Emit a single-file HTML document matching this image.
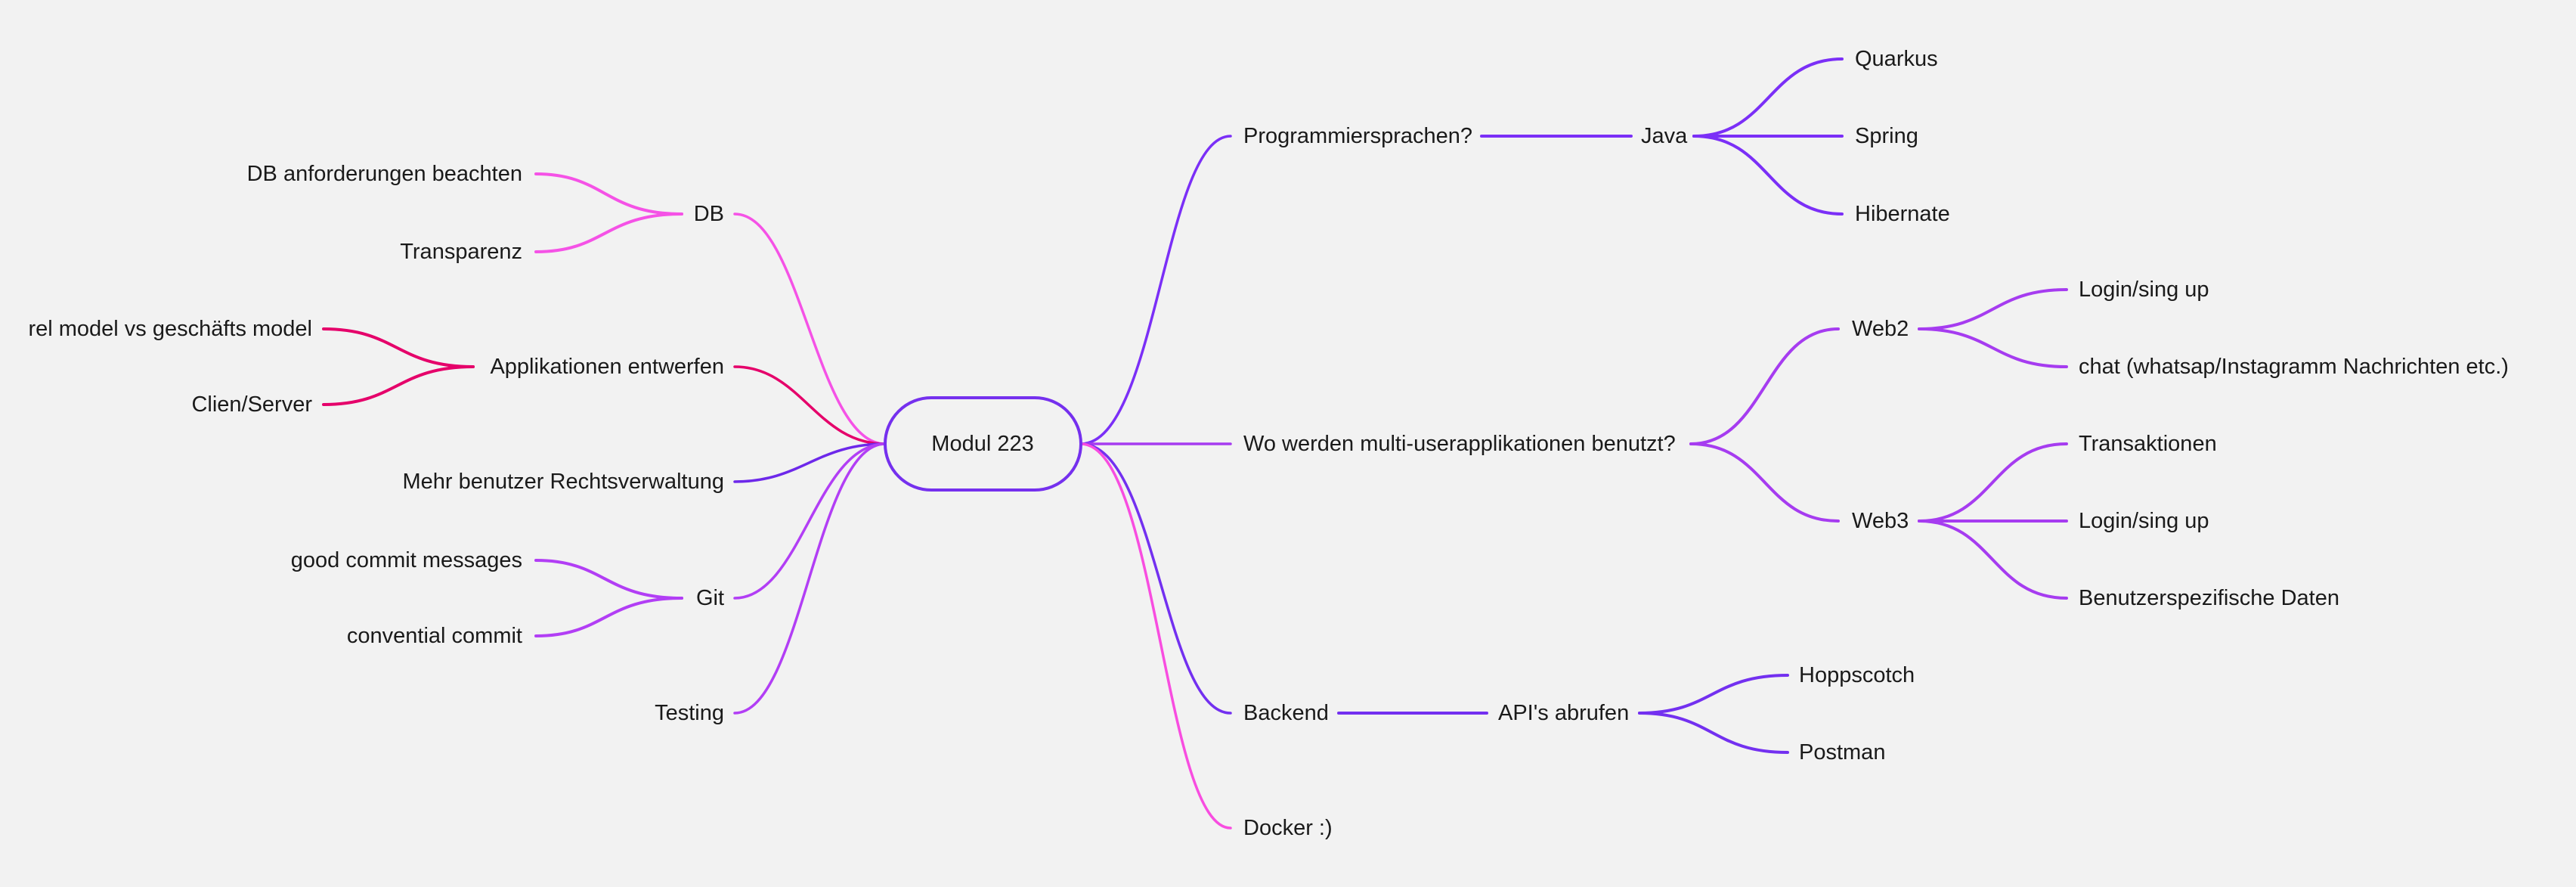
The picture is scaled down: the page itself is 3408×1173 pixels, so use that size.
<!DOCTYPE html>
<html><head><meta charset="utf-8"><style>
html,body{margin:0;padding:0;background:#f2f2f2;}
svg{display:block;}
text{font-family:"Liberation Sans",sans-serif;font-size:29px;fill:#1a1a1a;dominant-baseline:central;}
path{fill:none;stroke-linecap:round;}
</style></head><body>
<svg width="3408" height="1173" viewBox="0 0 3408 1173" xmlns="http://www.w3.org/2000/svg">
<rect width="3408" height="1173" fill="#f2f2f2"/>
<g stroke-width="3.5">
<path d="M1171 587 C1080 587 1060 283 972 283" stroke="#f552e6"/>
<path d="M1171 587 C1080 587 1060 485 972 485" stroke="#e5006a"/>
<path d="M1171 587 C1080 587 1060 637 972 637" stroke="#6d28ea"/>
<path d="M1171 587 C1080 587 1060 791 972 791" stroke="#b23ef5"/>
<path d="M1171 587 C1080 587 1060 943 972 943" stroke="#b23ef5"/>
<path d="M1430 587 C1530 587 1540 180 1628 180" stroke="#7b2ff7"/>
<path d="M1439 587 L1628 587" stroke="#a63cf0"/>
<path d="M1430 587 C1530 587 1540 943 1628 943" stroke="#7330f0"/>
<path d="M1430 587 C1530 587 1540 1095 1628 1095" stroke="#f84de0"/>
</g>
<g stroke-width="4">
<path d="M902 283 C800 283 800 230 709 230" stroke="#f552e6"/>
<path d="M902 283 C800 283 800 333 709 333" stroke="#f552e6"/>
<path d="M626 485 C525 485 525 435 428 435" stroke="#e5006a"/>
<path d="M626 485 C525 485 525 535 428 535" stroke="#e5006a"/>
<path d="M902 791 C800 791 800 741 709 741" stroke="#b23ef5"/>
<path d="M902 791 C800 791 800 841 709 841" stroke="#b23ef5"/>
<path d="M1960 180 L2158 180" stroke="#7b2ff7"/>
<path d="M2241 180 C2340 180 2340 78 2437 78" stroke="#7b2ff7"/>
<path d="M2241 180 L2437 180" stroke="#7b2ff7"/>
<path d="M2241 180 C2340 180 2340 283 2437 283" stroke="#7b2ff7"/>
<path d="M2237 587 C2335 587 2335 435 2432 435" stroke="#a63cf0"/>
<path d="M2237 587 C2335 587 2335 689 2432 689" stroke="#a63cf0"/>
<path d="M2539 435 C2636 435 2636 383 2734 383" stroke="#a63cf0"/>
<path d="M2539 435 C2636 435 2636 485 2734 485" stroke="#a63cf0"/>
<path d="M2539 689 C2636 689 2636 587 2734 587" stroke="#a63cf0"/>
<path d="M2539 689 L2734 689" stroke="#a63cf0"/>
<path d="M2539 689 C2636 689 2636 791 2734 791" stroke="#a63cf0"/>
<path d="M1771 943 L1967 943" stroke="#7330f0"/>
<path d="M2169 943 C2265 943 2265 893 2365 893" stroke="#7330f0"/>
<path d="M2169 943 C2265 943 2265 995 2365 995" stroke="#7330f0"/>
</g>
<rect x="1171" y="526" width="259" height="122" rx="61" ry="61" fill="#f2f2f2" stroke="#7530ee" stroke-width="4"/>
<text x="1300" y="587" text-anchor="middle">Modul 223</text>
<g text-anchor="end">
<text x="958" y="283">DB</text>
<text x="691" y="230">DB anforderungen beachten</text>
<text x="691" y="333">Transparenz</text>
<text x="958" y="485">Applikationen entwerfen</text>
<text x="413" y="435">rel model vs geschäfts model</text>
<text x="413" y="535">Clien/Server</text>
<text x="958" y="637">Mehr benutzer Rechtsverwaltung</text>
<text x="958" y="791">Git</text>
<text x="691" y="741">good commit messages</text>
<text x="691" y="841">convential commit</text>
<text x="958" y="943">Testing</text>
</g>
<g>
<text x="1645" y="180">Programmiersprachen?</text>
<text x="2171" y="180">Java</text>
<text x="2454" y="78">Quarkus</text>
<text x="2454" y="180">Spring</text>
<text x="2454" y="283">Hibernate</text>
<text x="1645" y="587">Wo werden multi-userapplikationen benutzt?</text>
<text x="2450" y="435">Web2</text>
<text x="2750" y="383">Login/sing up</text>
<text x="2750" y="485">chat (whatsap/Instagramm Nachrichten etc.)</text>
<text x="2450" y="689">Web3</text>
<text x="2750" y="587">Transaktionen</text>
<text x="2750" y="689">Login/sing up</text>
<text x="2750" y="791">Benutzerspezifische Daten</text>
<text x="1645" y="943">Backend</text>
<text x="1982" y="943">API's abrufen</text>
<text x="2380" y="893">Hoppscotch</text>
<text x="2380" y="995">Postman</text>
<text x="1645" y="1095">Docker :)</text>
</g>
</svg>
</body></html>
